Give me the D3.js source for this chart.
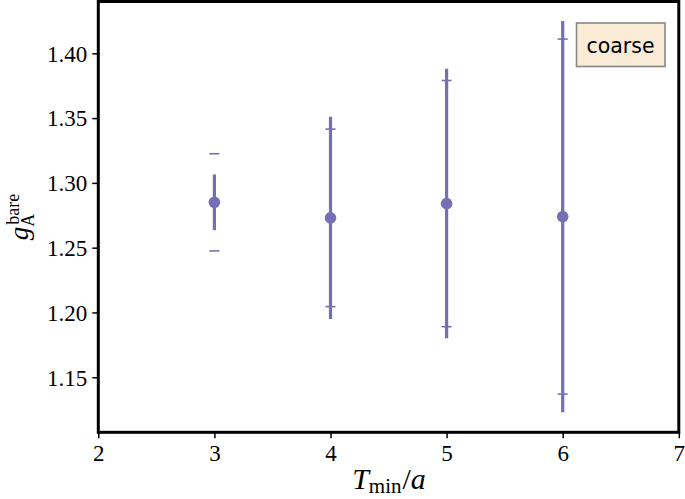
<!DOCTYPE html>
<html>
<head>
<meta charset="utf-8">
<script src="https://cdn.jsdelivr.net/npm/d3@7"></script>
<style>
  body { margin: 0; background: #fff; }
  svg { display: block; }
</style>
</head>
<body>
<script>
// data
var tMin = [3, 4, 5, 6];
var gA = [1.285, 1.273, 1.284, 1.274];
var errLine = [0.0215, 0.078, 0.104, 0.151];   // thick bar, no caps
var errCap = [0.0375, 0.0685, 0.095, 0.137];   // caps only
var xTicks = [2, 3, 4, 5, 6, 7];
var yTicks = [1.15, 1.20, 1.25, 1.30, 1.35, 1.40];

var width = 685, height = 499;
var plotLeft = 98.3, plotRight = 678.8, plotTop = 1.5, plotBottom = 432.3;
var purple = "#7570b3";
var tickFont = "'Liberation Serif', 'Times New Roman', serif";

var svg = d3.select("body").append("svg")
    .attr("width", width)
    .attr("height", height);

var x = d3.scaleLinear().domain([2, 7]).range([plotLeft, plotRight]);
var y = d3.scaleLinear().domain([1.1075, 1.44]).range([plotBottom, plotTop]);

// axes
var xAxis = svg.append("g")
    .attr("transform", "translate(0," + plotBottom + ")")
    .call(d3.axisBottom(x).tickValues(xTicks).tickFormat(d3.format("d")).tickSize(6).tickPadding(6));
var yAxis = svg.append("g")
    .attr("transform", "translate(" + plotLeft + ",0)")
    .call(d3.axisLeft(y).tickValues(yTicks).tickFormat(d3.format(".2f")).tickSize(6).tickPadding(5));

[xAxis, yAxis].forEach(function(ax) {
    ax.select(".domain").remove();
    ax.selectAll(".tick line").attr("stroke", "#000").attr("stroke-width", 1.5);
    ax.selectAll(".tick text")
        .attr("fill", "#000")
        .style("font-family", tickFont)
        .style("font-size", "23px");
});
yAxis.selectAll(".tick text").attr("dy", "0.34em");
xAxis.selectAll(".tick text").attr("dy", "0.72em");

// error bars (thick, no caps)
svg.append("g").selectAll("line")
    .data(tMin)
    .join("line")
    .attr("x1", function(d) { return x(d); })
    .attr("x2", function(d) { return x(d); })
    .attr("y1", function(d, i) { return y(gA[i] - errLine[i]); })
    .attr("y2", function(d, i) { return y(gA[i] + errLine[i]); })
    .attr("stroke", purple)
    .attr("stroke-width", 3.2);

// caps of the second error
var caps = svg.append("g");
tMin.forEach(function(d, i) {
    [gA[i] - errCap[i], gA[i] + errCap[i]].forEach(function(v) {
        caps.append("line")
            .attr("x1", x(d) - 5)
            .attr("x2", x(d) + 5)
            .attr("y1", y(v))
            .attr("y2", y(v))
            .attr("stroke", purple)
            .attr("stroke-width", 1.6);
    });
});

// markers
svg.append("g").selectAll("circle")
    .data(tMin)
    .join("circle")
    .attr("cx", function(d) { return x(d); })
    .attr("cy", function(d, i) { return y(gA[i]); })
    .attr("r", 5.8)
    .attr("fill", purple);

// frame
svg.append("rect")
    .attr("x", plotLeft)
    .attr("y", plotTop)
    .attr("width", plotRight - plotLeft)
    .attr("height", plotBottom - plotTop)
    .attr("fill", "none")
    .attr("stroke", "#000")
    .attr("stroke-width", 3);

// legend-like label box
svg.append("rect")
    .attr("x", 576.5)
    .attr("y", 23)
    .attr("width", 88.5)
    .attr("height", 43.5)
    .attr("fill", "#faebd7")
    .attr("stroke", "#888")
    .attr("stroke-width", 1.6);
svg.append("text")
    .attr("x", 620.5)
    .attr("y", 53)
    .attr("text-anchor", "middle")
    .style("font-family", "'DejaVu Sans', sans-serif")
    .style("font-size", "20.5px")
    .attr("fill", "#000")
    .text("coarse");

// x label: T_min / a
var xl = svg.append("text")
    .attr("x", 389)
    .attr("y", 489)
    .attr("text-anchor", "middle")
    .style("font-family", tickFont)
    .style("font-size", "30px")
    .attr("fill", "#000");
xl.append("tspan").style("font-style", "italic").text("T");
xl.append("tspan").attr("dy", 4).style("font-size", "21px").text("min");
xl.append("tspan").attr("dy", -4).attr("dx", 1).text("/");
xl.append("tspan").style("font-style", "italic").text("a");

// y label: g_A^bare
var yl = svg.append("text")
    .attr("transform", "translate(28,217) rotate(-90)")
    .attr("text-anchor", "middle")
    .style("font-family", tickFont)
    .style("font-size", "27px")
    .attr("fill", "#000");
yl.append("tspan").style("font-style", "italic").text("g");
yl.append("tspan").attr("dy", 6).style("font-size", "18px").text("A");
yl.append("tspan").attr("dx", -11).attr("dy", -15).style("font-size", "18px").text("bare");
</script>
</body>
</html>
